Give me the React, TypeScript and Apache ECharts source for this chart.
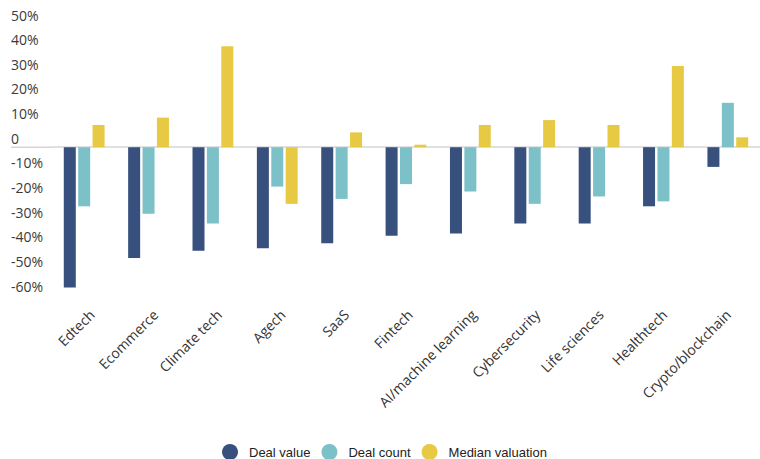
import React, { useEffect, useRef } from "react";
import * as echarts from "echarts";

const categories = [
  "Edtech",
  "Ecommerce",
  "Climate tech",
  "Agech",
  "SaaS",
  "Fintech",
  "AI/machine learning",
  "Cybersecurity",
  "Life sciences",
  "Healthtech",
  "Crypto/blockchain",
];
const dealValue = [-57, -45, -42, -41, -39, -36, -35, -31, -31, -24, -8];
const dealCount = [-24, -27, -31, -16, -21, -15, -18, -23, -20, -22, 18];
const medianValuation = [9, 12, 41, -23, 6, 1, 9, 11, 9, 33, 4];
const seriesNames = ["Deal value", "Deal count", "Median valuation"];
const colors = ["#38507d", "#7dc1c8", "#e7c944"];

export default function App() {
  const ref = useRef<HTMLDivElement>(null);
  useEffect(() => {
    if (!ref.current) return;
    const chart = echarts.init(ref.current, null, { renderer: "svg" });
    const gridLeft = 52;
    const mk = (name: string, data: number[], color: string) => ({
      name,
      type: "bar",
      data,
      xAxisIndex: 0,
      yAxisIndex: 0,
      barWidth: 12,
      barGap: "20%",
      itemStyle: { color },
    });
    chart.setOption({
      animation: false,
      color: colors,
      grid: [
        { left: gridLeft, top: 24, height: 271, width: 715 },
        { left: gridLeft + 8, top: 24, height: 271, width: 715 },
      ],
      legend: {
        data: seriesNames.map((n) => ({ name: n, icon: "circle" })),
        left: 222,
        top: 444,
        padding: 0,
        itemWidth: 16,
        itemHeight: 16,
        itemGap: 11,
        textStyle: {
          fontFamily: "Liberation Sans",
          fontSize: 13,
          color: "#222",
          padding: [0, 0, 0, 6],
        },
      },
      xAxis: [
        {
          type: "category",
          gridIndex: 0,
          data: categories,
          position: "bottom",
          axisLine: { onZero: true, lineStyle: { color: "#d6d6d6", width: 1.5 } },
          axisTick: { show: false },
          axisLabel: { show: false },
        },
        {
          type: "category",
          gridIndex: 1,
          data: categories,
          position: "bottom",
          axisLine: { show: false, onZero: false },
          axisTick: { show: false },
          axisLabel: {
            rotate: 45,
            margin: 17,
            interval: 0,
            fontFamily: "Open Sans",
            fontSize: 14,
            color: "#333",
          },
        },
      ],
      yAxis: [
        {
          type: "value",
          gridIndex: 0,
          min: -60,
          max: 50,
          interval: 10,
          axisLine: { show: false },
          axisTick: { show: false },
          splitLine: { show: false },
          axisLabel: {
            align: "left",
            verticalAlign: "bottom",
            lineHeight: 18,
            margin: 41,
            fontFamily: "Open Sans",
            fontSize: 14,
            color: "#3a3a3a",
            formatter: (v: number) => (v === 0 ? "0" : v + "%"),
          },
        },
        {
          type: "value",
          gridIndex: 1,
          min: -60,
          max: 50,
          interval: 10,
          show: false,
        },
      ],
      series: [
        mk(seriesNames[0], dealValue, colors[0]),
        mk(seriesNames[1], dealCount, colors[1]),
        mk(seriesNames[2], medianValuation, colors[2]),
      ],
    });
    const y0 = chart.convertToPixel({ yAxisIndex: 0 }, 0) as number;
    chart.setOption({
      graphic: [
        {
          type: "line",
          shape: { x1: 11, y1: y0, x2: gridLeft, y2: y0 },
          style: { stroke: "#d6d6d6", lineWidth: 1.5 },
          silent: true,
        },
      ],
    });
    return () => chart.dispose();
  }, []);
  return (
    <div
      ref={ref}
      style={{ position: "fixed", left: 0, top: 0, width: 760, height: 459, background: "#fff" }}
    />
  );
}
